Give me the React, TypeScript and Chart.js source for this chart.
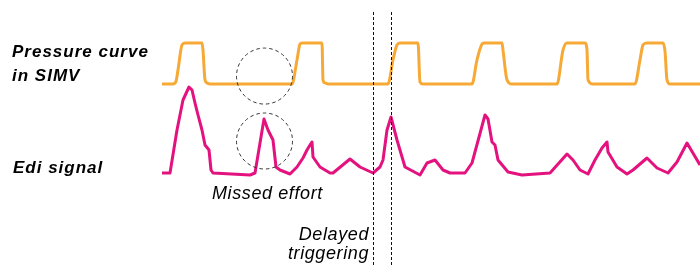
import React, { useEffect, useRef } from "react";
import { Chart, registerables } from "chart.js";

Chart.register(...registerables);

// Time axis (samples) and airway pressure (cmH2O) of the SIMV curve
const pressureTime = [
  162, 173, 176, 178, 182, 185, 202, 203, 205, 207, 210,
  292, 297, 300, 302, 322, 323, 325, 328,
  388, 393, 397, 400, 418, 420, 423,
  472, 477, 482, 484, 502, 503, 507, 512,
  557, 563, 567, 585, 587, 588, 593,
  635, 640, 643, 647, 663, 665, 667, 670, 700,
];
const pressureValues = [
  5, 5, 6, 10.1, 19.3, 20, 20, 17.4, 6.5, 5.4, 5,
  5, 13.8, 19.6, 20, 20, 6.5, 5.4, 5,
  5, 13.8, 19.3, 20, 20, 5.7, 5,
  5, 13.8, 19.6, 20, 20, 17.4, 6.5, 5,
  5, 17.4, 20, 20, 17.4, 6.5, 5,
  5, 13.8, 19.3, 20, 20, 17, 6.5, 5, 5,
];

// Time axis (samples) and Edi amplitude (µV)
const ediTime = [
  162, 170, 177, 183, 189, 192, 195, 198, 202, 205, 209, 211, 213,
  250, 255, 264, 268, 273, 276, 280, 290, 297, 303, 307, 310, 312, 313,
  320, 330, 333, 350, 360, 373, 380, 383, 387, 391, 397, 405, 420,
  427, 435, 443, 450, 465, 472, 485, 488, 492, 495, 498, 508, 522,
  550, 567, 573, 580, 588, 595, 602, 607, 608, 617, 627, 633, 647,
  657, 668, 677, 687, 700,
];
const ediValues = [
  0.4, 0.4, 9, 15, 17.6, 17, 14.4, 12, 9, 6, 5, 1, 0.4,
  0, 0.4, 11.2, 9, 7, 1.6, 1, 0.2, 1.6, 3.4, 5, 6, 6.6, 3.6,
  1.6, 0.4, 0.4, 3.2, 1.6, 0.4, 1.6, 3, 9, 11.6, 7, 1.6, 0,
  2.4, 3, 1, 0.4, 0.4, 2.4, 12, 11.2, 6.6, 6, 3, 0.6, 0,
  0.4, 4.2, 3, 1, 0.2, 3, 5.4, 6.6, 4.6, 1.6, 0.2, 1, 3.4,
  1.4, 0.4, 2.6, 6.4, 2,
];

// Annotations
const missedEffortTime = 264.5;
const missedEffortPressure = 7.9;
const missedEffortEdi = 6.8;
const delayedTriggerTimes = [373, 391];

const labelLines = ["Pressure curve", "in SIMV"];
const ediLabel = "Edi signal";
const missedLabel = "Missed effort";
const delayedLines = ["Delayed", "triggering"];

const annotationPlugin = {
  id: "annotations",
  afterDraw(chart: any) {
    const { ctx, scales, height } = chart;
    const xs = scales.x;
    const yP = scales.yP;
    const yE = scales.yE;
    ctx.save();
    // dashed circles
    ctx.strokeStyle = "#333333";
    ctx.lineWidth = 1;
    ctx.setLineDash([3.5, 3]);
    const cx = xs.getPixelForValue(missedEffortTime);
    ctx.beginPath();
    ctx.arc(cx, yP.getPixelForValue(missedEffortPressure), 28, 0, Math.PI * 2);
    ctx.stroke();
    ctx.beginPath();
    ctx.arc(cx, yE.getPixelForValue(missedEffortEdi), 28, 0, Math.PI * 2);
    ctx.stroke();
    // dashed vertical lines
    ctx.strokeStyle = "#111111";
    ctx.setLineDash([3, 2]);
    for (const t of delayedTriggerTimes) {
      const px = Math.round(xs.getPixelForValue(t)) + 0.5;
      ctx.beginPath();
      ctx.moveTo(px, 12);
      ctx.lineTo(px, height);
      ctx.stroke();
    }
    ctx.setLineDash([]);
    // labels
    ctx.fillStyle = "#000000";
    ctx.textBaseline = "alphabetic";
    ctx.textAlign = "left";
    ctx.font = 'italic bold 17px "Liberation Sans", Arial, sans-serif';
    (ctx as any).letterSpacing = "1px";
    ctx.fillText(labelLines[0], 12, 57);
    ctx.fillText(labelLines[1], 12, 81);
    ctx.fillText(ediLabel, 13, 173);
    ctx.font = 'italic 18px "Liberation Sans", Arial, sans-serif';
    (ctx as any).letterSpacing = "0.6px";
    ctx.fillText(missedLabel, 212, 199);
    ctx.textAlign = "right";
    ctx.fillText(delayedLines[0], 369, 240);
    ctx.fillText(delayedLines[1], 369, 259);
    ctx.restore();
  },
};

export default function App() {
  const ref = useRef<HTMLCanvasElement>(null);
  useEffect(() => {
    document.body.style.margin = "0";
    const canvas = ref.current;
    if (!canvas) return;
    const chart = new Chart(canvas, {
      type: "line",
      data: {
        datasets: [
          {
            label: "Pressure",
            data: pressureTime.map((t, i) => ({ x: t, y: pressureValues[i] })),
            borderColor: "#F6A935",
            borderWidth: 3,
            pointRadius: 0,
            cubicInterpolationMode: "monotone",
            yAxisID: "yP",
            fill: false,
          },
          {
            label: "Edi",
            data: ediTime.map((t, i) => ({ x: t, y: ediValues[i] })),
            borderColor: "#E3127E",
            borderWidth: 3,
            pointRadius: 0,
            tension: 0,
            borderJoinStyle: "round",
            yAxisID: "yE",
            fill: false,
          },
        ],
      },
      options: {
        responsive: false,
        animation: false,
        layout: { padding: 0 },
        plugins: { legend: { display: false }, tooltip: { enabled: false } },
        scales: {
          x: { type: "linear", min: 0, max: 700, display: false },
          yP: { type: "linear", min: -61.95, max: 35.73, display: false },
          yE: { type: "linear", min: -18.4, max: 35, display: false },
        },
      },
      plugins: [annotationPlugin],
    });
    return () => chart.destroy();
  }, []);
  return (
    <div style={{ width: 700, height: 267, background: "#ffffff" }}>
      <canvas ref={ref} width={700} height={267} />
    </div>
  );
}
